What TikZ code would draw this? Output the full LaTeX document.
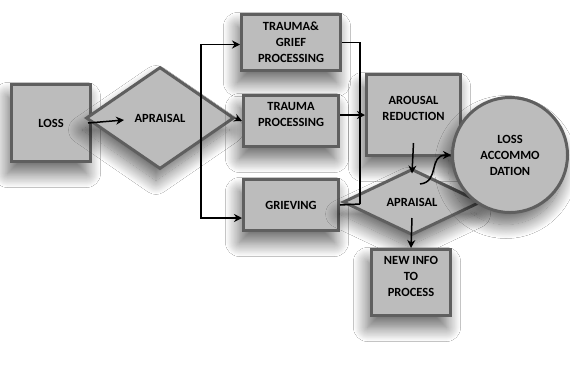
\documentclass[tikz,border=0pt]{standalone}
\usepackage{fontspec}
\setmainfont{Carlito}
\usetikzlibrary{shapes.geometric, arrows.meta, shadows.blur}
\definecolor{facegray}{RGB}{188,188,188}
\definecolor{edgegray}{RGB}{95,95,95}

\begin{document}
\begin{tikzpicture}[x=1pt, y=-1pt,
	base/.style={draw=edgegray, fill=facegray, line width=3pt, inner sep=0pt,
		align=center, font=\bfseries\fontsize{12.5}{16}\selectfont,
		blur shadow={shadow xshift=-4pt, shadow yshift=-12pt,
			shadow blur radius=14pt, shadow blur steps=20, shadow opacity=60}},
	proc/.style={base, rectangle},
	decide/.style={base, diamond},
	lbl/.style={align=center, font=\bfseries\fontsize{12.5}{16}\selectfont},
	arr/.style={-{Stealth[length=8pt, width=8pt]}, line width=1.5pt},
	link/.style={line width=1.5pt}
	]
	\fill[white] (0,0) rectangle (570,368);
	\useasboundingbox (0,0) rectangle (570,368);
	
	\node[proc, minimum width=79pt, minimum height=77pt] (loss) at (51,123) {LOSS};
	\node[decide, minimum width=148pt, minimum height=102pt] (apr1) at (160,118) {APRAISAL};
	\node[proc, minimum width=99pt, minimum height=56pt] (tg) at (291,42.5) {TRAUMA\&\\GRIEF\\PROCESSING};
	\node[proc, minimum width=95pt, minimum height=51pt,
		label={[lbl, yshift=7pt]center:TRAUMA\\PROCESSING}] (tp) at (291,121) {};
	\node[proc, minimum width=95pt, minimum height=51pt] (grief) at (291,205) {GRIEVING};
	\node[proc, minimum width=94pt, minimum height=81pt,
		label={[lbl, yshift=7pt]center:AROUSAL\\REDUCTION}] (ar) at (413.5,115) {};
	\node[decide, minimum width=138pt, minimum height=66pt] (apr2) at (412,202) {APRAISAL};
	\node[base, circle, minimum size=115pt] (acc) at (510,155) {LOSS\\ACCOMMO\\DATION};
	\node[proc, minimum width=79pt, minimum height=66pt,
		label={[lbl, yshift=6pt]center:NEW INFO\\TO\\PROCESS}] (newinfo) at (411,282.5) {};
	
	\coordinate (apr1in) at (124,120);
	\coordinate (fork) at (201,118);
	\coordinate (join) at (360,204);
	\coordinate (curl) at (420,184);
	
	\draw[arr] ([xshift=-4pt]loss.east) -- (apr1in);
	\draw[arr] (fork) |- ([yshift=-2pt]tg.west);
	\draw[arr] (fork) |- ([yshift=-13pt]grief.west);
	\draw[arr] (apr1.east) -- (tp.west);
	\draw[link] (tg.east) -| (join);
	\draw[link] (grief.east) -- (join);
	\draw[arr] (tp.east |- ar.west) -- (ar.west);
	\draw[arr] ([yshift=14pt]ar.south) -- ([yshift=-6pt]apr2.north);
	\draw[arr] (curl) .. controls (440,182) and (428,155) .. (acc.west);
	\draw[arr] ([yshift=-16pt]apr2.center) -- (newinfo.north);
\end{tikzpicture}
\end{document}
